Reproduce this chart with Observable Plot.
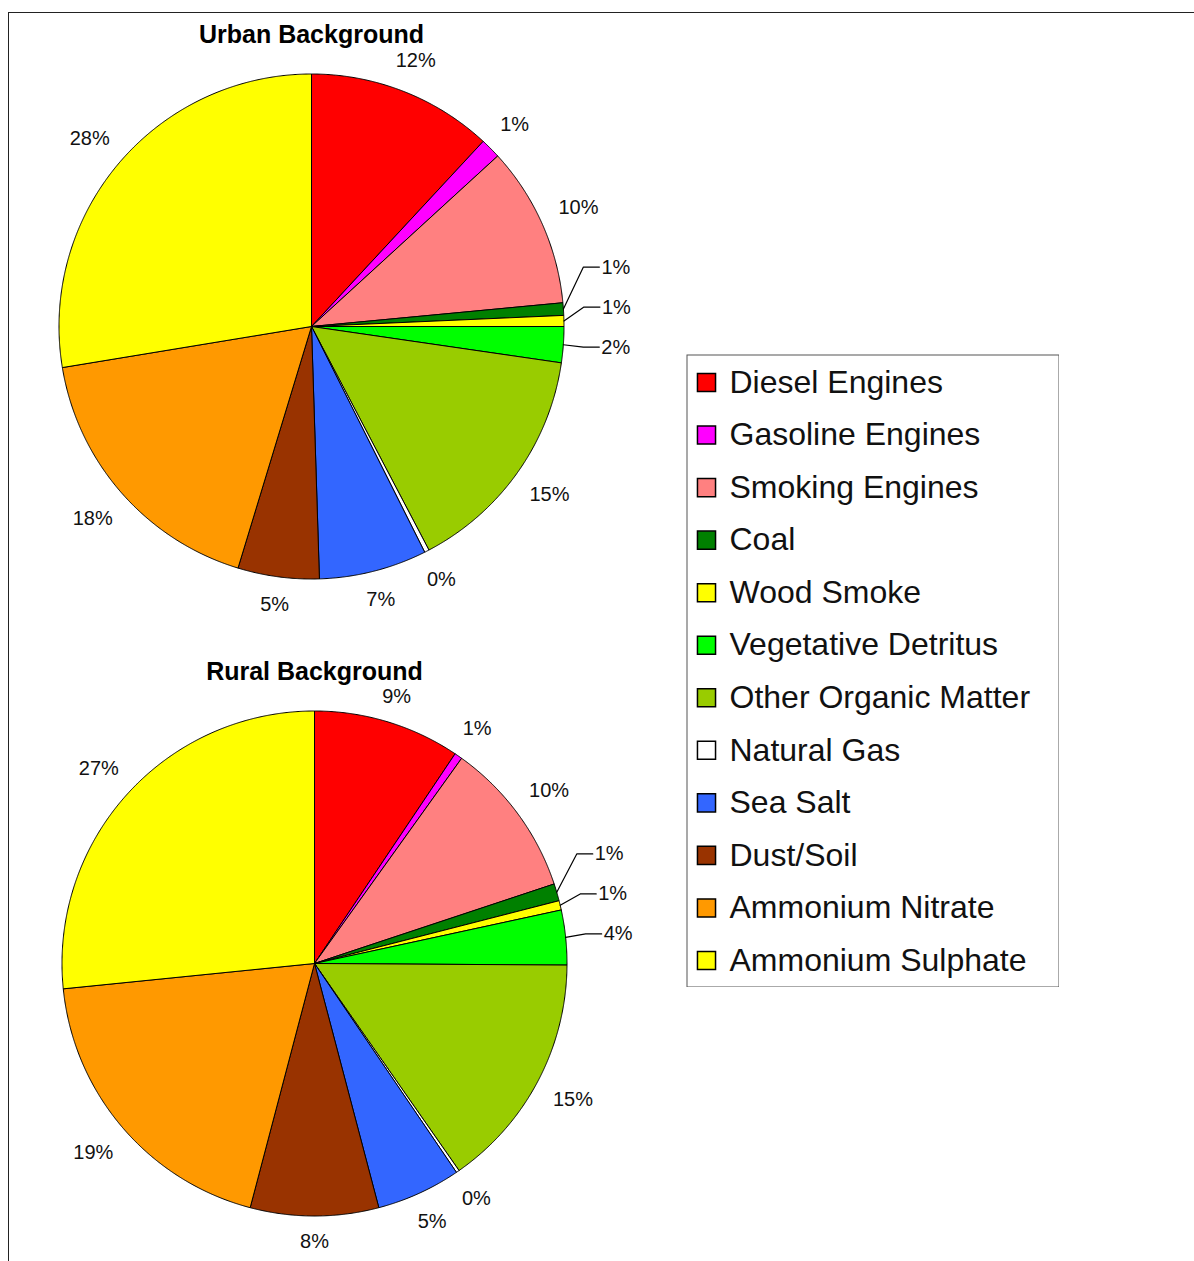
<!DOCTYPE html>
<html>
<head>
<meta charset="utf-8">
<script src="https://cdn.jsdelivr.net/npm/d3@7"></script>
<script src="https://cdn.jsdelivr.net/npm/@observablehq/plot@0.6"></script>
<style>
  html, body { margin: 0; padding: 0; background: #fff; }
  #page { position: relative; width: 1194px; height: 1261px; overflow: hidden;
          font-family: "Liberation Sans", Arial, sans-serif; }
  #rule { position: absolute; left: 8px; top: 12px; right: -2px; bottom: -2px;
          border-top: 1px solid #222; border-left: 1px solid #222; }
  .panel { position: absolute; }
</style>
</head>
<body>
<div id="page">
  <div id="rule"></div>
  <div class="panel" id="urban" style="left:1px; top:16px;"></div>
  <div class="panel" id="rural" style="left:4px; top:653px;"></div>
  <div class="panel" id="legend" style="left:686px; top:354px;"></div>
</div>
<script>
// Source categories, in pie order (clockwise from 12 o'clock)
const sources = [
  "Diesel Engines", "Gasoline Engines", "Smoking Engines", "Coal", "Wood Smoke",
  "Vegetative Detritus", "Other Organic Matter", "Natural Gas", "Sea Salt",
  "Dust/Soil", "Ammonium Nitrate", "Ammonium Sulphate"
];
const sourceColors = [
  "#ff0000", "#ff00ff", "#ff8080", "#008000", "#ffff00",
  "#00ff00", "#99cc00", "#ffffff", "#3366ff",
  "#993300", "#ff9900", "#ffff00"
];
// Share of PM mass (%) per source
const urbanShares = [11.9, 1.3, 10.3, 0.8, 0.7, 2.3, 15.0, 0.3, 6.9, 5.2, 17.7, 27.6];
const ruralShares = [9.4, 0.5, 10.0, 1.1, 0.6, 3.5, 15.2, 0.2, 5.4, 8.2, 19.3, 26.6];
const panelTitles = ["Urban Background", "Rural Background"];

const FONT = "'Liberation Sans', Arial, sans-serif";
const K = 252.5;          // pixels per unit radius
const W = 660, H = 640;   // panel size
const CX = 310, CY = 310; // pie centre inside a panel
const TITLE_Y = 18;       // title centre, pixels from the panel top

const colorScale = {type: "ordinal", domain: sources, range: sourceColors};

function pieChart(shares, title) {
  const total = d3.sum(shares);
  let acc = 0;
  const slices = shares.map((v, i) => {
    const a0 = acc / total * 2 * Math.PI;
    acc += v;
    const a1 = acc / total * 2 * Math.PI;
    return {name: sources[i], value: v, a0, a1, mid: (a0 + a1) / 2};
  });

  // wedge outlines, angle measured clockwise from the top
  const wedgePts = [];
  for (const s of slices) {
    const n = Math.max(2, Math.ceil((s.a1 - s.a0) / (0.25 * Math.PI / 180)));
    wedgePts.push({name: s.name, x: 0, y: 0});
    for (let j = 0; j <= n; j++) {
      const t = s.a0 + (s.a1 - s.a0) * j / n;
      wedgePts.push({name: s.name, x: Math.sin(t), y: Math.cos(t)});
    }
    wedgePts.push({name: s.name, x: 0, y: 0});
  }

  // percentage labels just outside the rim (pixel offsets, y pointing down)
  const labels = slices.map((s) => {
    const text = Math.round(s.value) + "%";
    const w = 11 * (text.length - 1) + 18;
    const sn = Math.sin(s.mid), cs = Math.cos(s.mid);
    const r = K + 18 + Math.abs(sn) * w / 2 + Math.abs(cs) * 8;
    return {name: s.name, text, mid: s.mid, lx: r * sn, ly: -r * cs, leader: false};
  });

  // keep labels clear of the title line
  const titleHalf = 120, titleBottom = TITLE_Y + 12;
  for (const l of labels) {
    if (Math.abs(l.lx) < titleHalf && CY + l.ly - 11 < titleBottom + 2) {
      l.ly = titleBottom + 13 - CY;
    }
  }

  // group neighbouring labels that would collide, then stack them
  const clusters = [];
  let cur = [labels[0]];
  for (let i = 1; i < labels.length; i++) {
    const a = labels[i - 1], b = labels[i];
    if (Math.abs(a.lx - b.lx) < 36 && Math.abs(a.ly - b.ly) < 40) cur.push(b);
    else { clusters.push(cur); cur = [b]; }
  }
  clusters.push(cur);
  const leaders = [];
  for (const c of clusters) {
    if (c.length < 2) continue;
    c.sort((a, b) => b.ly - a.ly);
    for (let i = 1; i < c.length; i++) c[i].ly = Math.min(c[i].ly, c[i - 1].ly - 40);
    for (const l of c) {
      const ex = K * Math.sin(l.mid), ey = -K * Math.cos(l.mid);
      l.leader = true;
      l.lx = ex + 38;
      leaders.push(
        {id: l.name, x: ex / K, y: -ey / K},
        {id: l.name, x: (ex + 20) / K, y: -l.ly / K},
        {id: l.name, x: (ex + 36) / K, y: -l.ly / K}
      );
    }
  }
  const plain = labels.filter(l => !l.leader);
  const tagged = labels.filter(l => l.leader);

  return Plot.plot({
    width: W, height: H, margin: 0,
    x: {domain: [-CX / K, (W - CX) / K], axis: null},
    y: {domain: [-(H - CY) / K, CY / K], axis: null},
    color: colorScale,
    style: {background: "transparent", fontFamily: FONT, overflow: "visible"},
    marks: [
      Plot.line(wedgePts, {x: "x", y: "y", z: "name", fill: "name",
        stroke: "#000", strokeWidth: 1, strokeLinejoin: "miter", strokeMiterlimit: 4, curve: "linear"}),
      Plot.line(leaders, {x: "x", y: "y", z: "id", stroke: "#000", strokeWidth: 1.2}),
      Plot.text(plain, {x: d => d.lx / K, y: d => -d.ly / K, text: "text",
        fontSize: 20, fill: "#111", textAnchor: "middle"}),
      Plot.text(tagged, {x: d => d.lx / K, y: d => -d.ly / K, text: "text",
        fontSize: 20, fill: "#111", textAnchor: "start"}),
      Plot.text([title], {x: () => 0, y: () => (CY - TITLE_Y) / K, text: d => d,
        fontSize: 25, fontWeight: "bold", fill: "#000"})
    ]
  });
}

document.getElementById("urban").append(pieChart(urbanShares, panelTitles[0]));
document.getElementById("rural").append(pieChart(ruralShares, panelTitles[1]));

// legend box
const legend = Plot.plot({
  width: 373, height: 633, margin: 0,
  y: {type: "point", domain: sources, range: [28, 606], padding: 0, round: false, axis: null},
  color: colorScale,
  style: {background: "#fff", fontFamily: FONT},
  marks: [
    Plot.frame({stroke: "#555", strokeWidth: 1, inset: 0.5}),
    Plot.dot(sources, {y: d => d, frameAnchor: "left", dx: 20, symbol: "square", r: 10.2,
      fill: d => d, stroke: "#000", strokeWidth: 1.5}),
    Plot.text(sources, {y: d => d, text: d => d, frameAnchor: "left", dx: 43,
      textAnchor: "start", fontSize: 32, fill: "#111"})
  ]
});
document.getElementById("legend").append(legend);
</script>
</body>
</html>
